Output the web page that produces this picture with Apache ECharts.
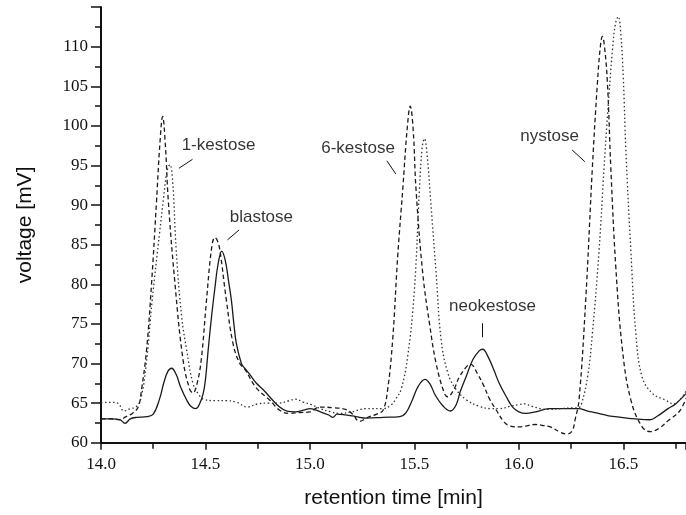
<!DOCTYPE html>
<html>
<head>
<meta charset="utf-8">
<script src="https://cdn.jsdelivr.net/npm/echarts@6/dist/echarts.min.js"></script>
<style>
html,body{margin:0;padding:0;background:#fff;}
#chart{width:686px;height:515px;}
</style>
</head>
<body>
<div id="chart"></div>
<script>
// ---- Data ----
// Solid trace
var solidT = [14.00,14.05,14.09,14.115,14.14,14.17,14.22,14.25,14.28,14.30,14.32,14.338,14.36,14.38,14.41,14.43,14.454,14.47,14.489,14.50,14.513,14.529,14.545,14.56,14.578,14.595,14.61,14.624,14.636,14.648,14.672,14.688,14.71,14.744,14.78,14.807,14.855,14.89,14.93,14.97,15.00,15.05,15.09,15.11,15.13,15.17,15.22,15.27,15.35,15.43,15.46,15.49,15.52,15.551,15.575,15.60,15.635,15.672,15.70,15.72,15.747,15.78,15.81,15.827,15.85,15.88,15.906,15.94,15.97,16.00,16.034,16.08,16.145,16.20,16.285,16.33,16.365,16.43,16.49,16.56,16.628,16.66,16.714,16.75,16.80];
var solidV = [63.0,63.0,62.9,62.45,63.0,63.2,63.3,63.6,65.5,67.5,69.0,69.4,68.6,67.1,65.4,64.6,64.3,64.8,66.2,68.0,71.7,75.9,79.5,82.5,84.2,83.0,80.5,78.0,75.0,72.5,70.0,69.4,68.7,67.5,66.6,65.8,64.5,64.0,63.9,64.1,64.3,63.9,63.5,63.2,63.6,63.5,63.3,63.1,63.2,63.3,63.8,65.4,67.2,68.0,67.4,66.0,64.7,64.0,64.8,66.5,68.3,70.5,71.6,71.8,71.0,69.2,67.5,65.8,64.5,63.9,63.7,63.9,64.3,64.3,64.3,64.0,63.8,63.4,63.2,63.0,62.9,63.3,64.3,64.9,66.2];

// Dashed trace
var dashedT = [14.00,14.05,14.09,14.12,14.15,14.178,14.194,14.218,14.242,14.266,14.282,14.295,14.308,14.322,14.354,14.393,14.425,14.44,14.46,14.48,14.505,14.53,14.545,14.557,14.569,14.60,14.632,14.664,14.688,14.744,14.807,14.855,14.90,14.95,15.00,15.046,15.12,15.17,15.205,15.236,15.284,15.32,15.35,15.372,15.396,15.42,15.444,15.466,15.48,15.494,15.508,15.54,15.572,15.604,15.644,15.66,15.69,15.715,15.75,15.77,15.80,15.83,15.86,15.89,15.93,15.96,16.00,16.03,16.08,16.11,16.15,16.20,16.23,16.255,16.27,16.288,16.32,16.352,16.376,16.39,16.40,16.41,16.424,16.44,16.464,16.496,16.536,16.59,16.63,16.67,16.72,16.77,16.80];
var dashedV = [63.0,63.0,62.9,63.3,63.7,64.5,66.7,71.7,80.1,90.6,97.8,101.2,97.6,90.6,80.1,70.4,66.7,66.3,67.5,70.5,78.0,84.7,85.9,85.5,84.3,78.0,72.5,70.0,69.3,66.9,65.4,64.1,63.7,63.8,63.9,64.5,64.4,64.2,63.6,62.7,63.3,63.6,64.1,66.7,73.0,83.5,91.9,99.8,102.5,99.6,91.9,81.4,75.1,70.0,66.2,65.8,66.8,68.3,69.6,69.9,68.8,67.3,65.5,64.2,62.6,62.1,62.0,62.1,62.3,62.2,62.0,61.3,61.1,61.5,63.0,65.4,78.0,94.8,105.4,110.0,111.3,110.0,105.4,94.8,82.2,71.7,65.4,62.0,61.4,61.8,62.9,64.0,65.6];

// Dotted trace
var dottedT = [14.00,14.04,14.08,14.11,14.14,14.167,14.19,14.215,14.245,14.28,14.30,14.316,14.33,14.343,14.36,14.386,14.41,14.44,14.47,14.49,14.55,14.60,14.65,14.70,14.75,14.80,14.85,14.90,14.93,14.97,15.007,15.05,15.10,15.14,15.20,15.27,15.35,15.39,15.41,15.436,15.468,15.50,15.524,15.537,15.548,15.56,15.58,15.604,15.628,15.66,15.70,15.75,15.81,15.87,15.906,15.96,16.00,16.03,16.06,16.14,16.20,16.26,16.285,16.30,16.33,16.352,16.384,16.408,16.424,16.448,16.463,16.476,16.488,16.50,16.512,16.536,16.56,16.59,16.64,16.70,16.74,16.80];
var dottedV = [65.1,65.1,65.0,64.0,64.3,64.5,65.5,69.6,78.0,86.4,91.0,94.3,95.1,93.0,84.3,75.9,71.7,67.5,66.0,65.5,65.3,65.3,65.1,64.5,64.9,65.0,65.0,65.3,65.5,65.1,64.8,64.3,63.9,63.7,63.9,64.3,64.3,64.8,65.5,66.7,70.9,79.3,91.9,97.2,98.4,96.6,89.8,81.4,73.0,68.8,66.7,65.4,64.6,64.3,64.3,64.6,64.8,64.9,64.6,64.2,64.3,64.4,64.4,64.9,68.5,73.8,84.3,94.8,101.2,109.6,113.0,113.8,111.6,106.0,97.0,84.3,73.8,68.3,66.2,65.4,64.9,66.5];

// Axis ticks
var xMin = 14.0, xMax = 16.8, xStep = 0.5;
var yMin = 60, yMax = 115, yStep = 5;

// Peak annotations (text anchor in data units, leader line ends)
var annotText = ['1-kestose','blastose','6-kestose','nystose','neokestose'];
var annotT    = [14.386, 14.616, 15.054, 16.007, 15.666];
var annotV    = [97.6, 88.5, 97.2, 98.7, 77.2];
var leaderT1  = [14.438, 14.661, 15.368, 16.255, 15.825];
var leaderV1  = [95.78, 86.86, 95.6, 96.96, 75.08];
var leaderT2  = [14.373, 14.605, 15.411, 16.316, 15.825];
var leaderV2  = [94.65, 85.6, 93.93, 95.48, 73.31];

function zip(a, b) { return a.map(function (x, i) { return [x, b[i]]; }); }

var chart = echarts.init(document.getElementById('chart'), null, {renderer: 'canvas'});

var annotData = annotText.map(function (t, i) { return {value: [annotT[i], annotV[i]], name: t}; });
var leaderData = annotText.map(function (t, i) {
  return [{coord: [leaderT1[i], leaderV1[i]]}, {coord: [leaderT2[i], leaderV2[i]]}];
});

var axisFont = {fontFamily: 'Liberation Serif', fontSize: 17, color: '#111'};

chart.setOption({
  animation: false,
  backgroundColor: '#fff',
  grid: {left: 101, top: 7.1, width: 587, height: 435.6, containLabel: false},
  xAxis: {
    type: 'value', min: xMin, max: xMax, interval: xStep,
    name: 'retention time [min]', nameLocation: 'middle', nameGap: 45,
    nameTextStyle: {fontFamily: 'Liberation Sans', fontSize: 21, color: '#111'},
    axisLine: {show: true, onZero: false, lineStyle: {color: '#111', width: 2}},
    axisTick: {show: true, inside: false, length: 7, lineStyle: {color: '#111', width: 1.5}},
    minorTick: {show: true, splitNumber: 2, length: 6, lineStyle: {color: '#111', width: 1.5}},
    axisLabel: Object.assign({margin: 13, showMaxLabel: false, formatter: function (v) { return v.toFixed(1); }}, axisFont),
    splitLine: {show: false}
  },
  yAxis: {
    type: 'value', min: yMin, max: yMax, interval: yStep,
    name: 'voltage [mV]', nameLocation: 'middle', nameGap: 65, nameRotate: 90,
    nameTextStyle: {fontFamily: 'Liberation Sans', fontSize: 21, color: '#111'},
    axisLine: {show: true, onZero: false, lineStyle: {color: '#111', width: 2}},
    axisTick: {show: true, inside: false, length: 10, lineStyle: {color: '#111', width: 1.5}},
    minorTick: {show: true, splitNumber: 2, length: 6, lineStyle: {color: '#111', width: 1.5}},
    axisLabel: Object.assign({margin: 13, showMaxLabel: false}, axisFont),
    splitLine: {show: false}
  },
  series: [
    {
      name: 'solid', type: 'line', data: zip(solidT, solidV), showSymbol: false,
      smooth: 0.4,
      lineStyle: {color: '#1a1a1a', width: 1.3, type: 'solid'}
    },
    {
      name: 'dashed', type: 'line', data: zip(dashedT, dashedV), showSymbol: false,
      smooth: 0.4,
      lineStyle: {color: '#1a1a1a', width: 1.3, type: [4.5, 3]}
    },
    {
      name: 'dotted', type: 'line', data: zip(dottedT, dottedV), showSymbol: false,
      smooth: 0.4,
      lineStyle: {color: '#333', width: 1.3, type: [1.5, 2.5]}
    },
    {
      name: 'annotations', type: 'scatter', data: annotData, symbolSize: 0,
      silent: true,
      label: {
        show: true, position: 'right', distance: 0,
        formatter: function (p) { return p.name; },
        fontFamily: 'Liberation Sans', fontSize: 17, color: '#000'
      },
      markLine: {
        silent: true, symbol: 'none', animation: false,
        label: {show: false},
        lineStyle: {color: '#111', width: 1, type: 'solid'},
        data: leaderData
      }
    }
  ]
});
</script>
</body>
</html>
